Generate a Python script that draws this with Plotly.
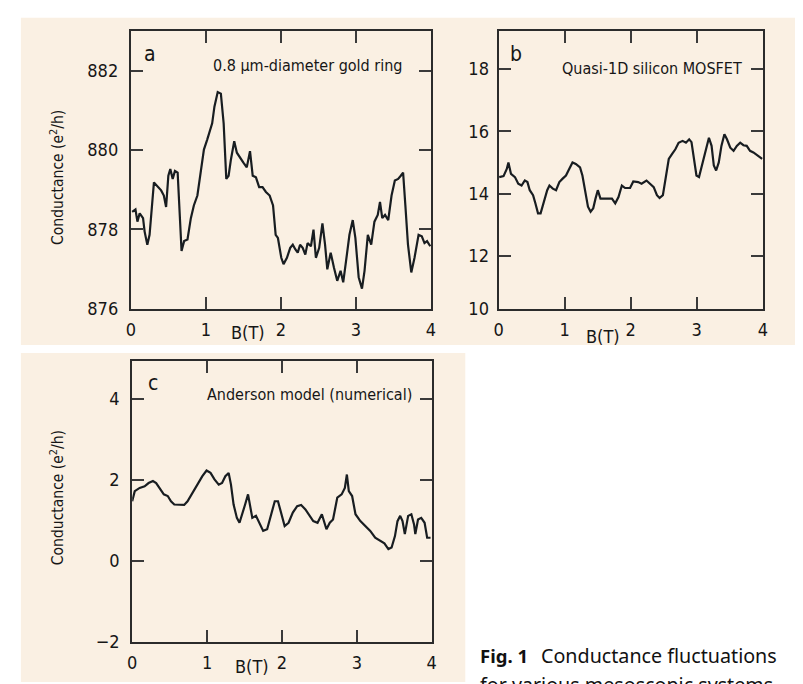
import plotly.graph_objects as go

W, H = 803, 684

# ---------------- data ----------------
# Panel a: 0.8 um-diameter gold ring
a_B = [0.018, 0.062, 0.088, 0.118, 0.163, 0.184, 0.22, 0.25, 0.308, 0.36, 0.404, 0.44, 0.47, 0.5,
       0.526, 0.558, 0.588, 0.624, 0.645, 0.676, 0.71, 0.755, 0.8, 0.84, 0.887, 0.93, 0.974, 1.018,
       1.062, 1.084, 1.114, 1.158, 1.2, 1.237, 1.272, 1.303, 1.334, 1.378, 1.413, 1.466, 1.5, 1.545,
       1.588, 1.624, 1.667, 1.71, 1.755, 1.8, 1.85, 1.895, 1.93, 1.96, 2.005, 2.035, 2.08, 2.124,
       2.158, 2.193, 2.224, 2.255, 2.29, 2.325, 2.355, 2.4, 2.434, 2.466, 2.51, 2.553, 2.588, 2.618,
       2.663, 2.707, 2.75, 2.795, 2.83, 2.868, 2.913, 2.957, 2.992, 3.036, 3.08, 3.114, 3.158, 3.203,
       3.246, 3.29, 3.32, 3.35, 3.387, 3.43, 3.474, 3.518, 3.562, 3.597, 3.628, 3.658, 3.693, 3.737,
       3.78, 3.834, 3.877, 3.913, 3.947, 3.99]
a_G = [878.44, 878.5, 878.19, 878.4, 878.28, 877.94, 877.61, 877.86, 879.18, 879.06, 878.98, 878.85,
       878.56, 879.35, 879.52, 879.27, 879.47, 879.43, 878.6, 877.45, 877.7, 877.74, 878.28, 878.6,
       878.85, 879.43, 880.01, 880.26, 880.55, 880.67, 881.09, 881.46, 881.42, 880.67, 879.27, 879.35,
       879.76, 880.22, 879.93, 879.76, 879.68, 879.56, 879.97, 879.35, 879.31, 879.06, 879.06, 878.94,
       878.85, 878.6, 877.86, 877.78, 877.28, 877.12, 877.28, 877.53, 877.61, 877.49, 877.41, 877.61,
       877.53, 877.36, 877.65, 877.57, 877.99, 877.28, 877.53, 878.15, 877.61, 876.99, 877.41, 877.03,
       876.7, 876.95, 876.66, 877.2, 877.86, 878.23, 877.78, 876.79, 876.5, 876.95, 877.86, 877.61,
       878.19, 878.36, 878.69, 878.28, 878.36, 878.23, 878.85, 879.23, 879.27, 879.35, 879.43, 878.6,
       877.61, 876.91, 877.28, 877.86, 877.82, 877.65, 877.7, 877.57]

# Panel b: quasi-1D silicon MOSFET
b_B = [0.01, 0.075, 0.124, 0.149, 0.188, 0.248, 0.298, 0.348, 0.397, 0.437, 0.472, 0.522, 0.557,
       0.597, 0.636, 0.687, 0.736, 0.77, 0.821, 0.87, 0.92, 0.97, 1.02, 1.069, 1.119, 1.169, 1.233,
       1.269, 1.318, 1.353, 1.393, 1.433, 1.467, 1.502, 1.542, 1.591, 1.666, 1.716, 1.766, 1.815,
       1.866, 1.915, 1.99, 2.039, 2.113, 2.164, 2.239, 2.299, 2.348, 2.397, 2.437, 2.487, 2.537,
       2.576, 2.627, 2.676, 2.725, 2.785, 2.836, 2.885, 2.92, 2.96, 2.995, 3.034, 3.084, 3.134,
       3.184, 3.224, 3.258, 3.293, 3.333, 3.373, 3.418, 3.457, 3.507, 3.557, 3.606, 3.657, 3.706,
       3.756, 3.806, 3.857, 3.906, 3.955, 3.99]
b_G = [14.53, 14.56, 14.79, 15.0, 14.63, 14.53, 14.32, 14.26, 14.42, 14.37, 14.11, 13.95, 13.69,
       13.37, 13.37, 13.79, 14.11, 14.26, 14.16, 14.11, 14.37, 14.48, 14.58, 14.79, 15.0, 14.95,
       14.84, 14.58, 14.05, 13.58, 13.42, 13.53, 13.84, 14.11, 13.84, 13.84, 13.86, 13.84, 13.69,
       13.89, 14.26, 14.18, 14.18, 14.39, 14.37, 14.32, 14.42, 14.32, 14.21, 13.95, 13.86, 13.95,
       14.58, 15.11, 15.27, 15.42, 15.63, 15.69, 15.63, 15.74, 15.65, 15.0, 14.58, 14.53, 14.95,
       15.42, 15.79, 15.53, 14.9, 14.74, 15.0, 15.53, 15.9, 15.74, 15.47, 15.37, 15.53, 15.63,
       15.55, 15.53, 15.37, 15.32, 15.24, 15.16, 15.11]

# Panel c: Anderson model (numerical)
c_B = [0.0, 0.034, 0.1, 0.166, 0.219, 0.277, 0.32, 0.364, 0.422, 0.475, 0.518, 0.562, 0.628, 0.694,
       0.739, 0.805, 0.871, 0.937, 0.993, 1.046, 1.099, 1.156, 1.2, 1.244, 1.288, 1.319, 1.354,
       1.398, 1.433, 1.472, 1.508, 1.547, 1.574, 1.604, 1.653, 1.697, 1.749, 1.802, 1.847, 1.904,
       1.947, 1.992, 2.036, 2.088, 2.145, 2.203, 2.256, 2.313, 2.365, 2.418, 2.475, 2.533, 2.594,
       2.639, 2.682, 2.739, 2.797, 2.84, 2.867, 2.893, 2.937, 2.982, 3.047, 3.113, 3.179, 3.245,
       3.311, 3.368, 3.421, 3.464, 3.509, 3.543, 3.579, 3.61, 3.641, 3.685, 3.728, 3.764, 3.781,
       3.817, 3.86, 3.905, 3.939, 3.984]
c_G = [1.47, 1.72, 1.8, 1.84, 1.92, 1.97, 1.92, 1.8, 1.64, 1.6, 1.47, 1.39, 1.38, 1.38, 1.47, 1.68,
       1.88, 2.09, 2.23, 2.17, 2.01, 1.88, 1.92, 2.09, 2.17, 1.88, 1.39, 1.06, 0.94, 1.15, 1.39,
       1.64, 1.31, 1.06, 1.11, 0.94, 0.74, 0.78, 1.06, 1.47, 1.47, 1.15, 0.86, 0.94, 1.19, 1.35,
       1.38, 1.27, 1.11, 0.98, 0.94, 1.15, 0.78, 0.94, 1.02, 1.56, 1.64, 1.8, 2.13, 1.72, 1.6,
       1.15, 0.98, 0.86, 0.74, 0.57, 0.49, 0.43, 0.29, 0.33, 0.61, 0.98, 1.11, 0.98, 0.66, 1.11,
       1.15, 0.9, 0.66, 1.02, 1.06, 0.94, 0.57, 0.57]

x_ticks = [0, 1, 2, 3, 4]
a_yticks = [876, 878, 880, 882]
b_yticks = [10.32, 12, 14, 16, 18]
b_yticklabels = ["10", "12", "14", "16", "18"]
c_yticks = [-2, 0, 2, 4]
c_yticklabels = ["\u22122", "0", "2", "4"]

titles = ["0.8 \u00b5m-diameter gold ring", "Quasi-1D silicon MOSFET", "Anderson model (numerical)"]
letters = ["a", "b", "c"]

# ---------------- styling ----------------
NARROW = "DejaVu Sans Condensed, sans-serif"
LINE = "#181d21"
AXC = "#2b2b2b"
PLOTBG = "#d3e3f2"
CREAM = "#faf0e3"
TXT = "#161616"


def fx(p):
    return p / W


def fy(p):
    return 1 - p / H


def axis_style(dom, rng, tickvals, ticktext=None, anchor=None, standoff=5):
    d = dict(domain=dom, range=rng, tickvals=tickvals, showline=True, linecolor=AXC, linewidth=2,
             mirror="ticks", ticks="inside", ticklen=12, tickwidth=2, tickcolor="#3a3a3a",
             showgrid=False, zeroline=False, ticklabelstandoff=standoff,
             tickfont=dict(family=NARROW, size=18, color=TXT), anchor=anchor)
    if ticktext is not None:
        d["ticktext"] = ticktext
    return d


fig = go.Figure()
line = dict(color=LINE, width=2.2)
fig.add_trace(go.Scatter(x=a_B, y=a_G, mode="lines", line=line, xaxis="x", yaxis="y", showlegend=False))
fig.add_trace(go.Scatter(x=b_B, y=b_G, mode="lines", line=line, xaxis="x2", yaxis="y2", showlegend=False))
fig.add_trace(go.Scatter(x=c_B, y=c_G, mode="lines", line=line, xaxis="x3", yaxis="y3", showlegend=False))

# panel pixel boxes (left, right, top, bottom)
boxes = [(119.3, 423.3, 23.3, 305.0), (491.7, 759.3, 23.3, 305.0), (120.7, 424.0, 358.3, 643.3)]

fig.update_layout(
    width=W, height=H, margin=dict(l=0, r=0, t=0, b=0),
    paper_bgcolor="white", plot_bgcolor=PLOTBG, showlegend=False,
    xaxis=axis_style([fx(boxes[0][0]), fx(boxes[0][1])], [0, 4], x_ticks, anchor="y", standoff=4),
    yaxis=axis_style([fy(boxes[0][3]), fy(boxes[0][2])], [876, 883], a_yticks, anchor="x", standoff=7),
    xaxis2=axis_style([fx(boxes[1][0]), fx(boxes[1][1])], [0, 4], x_ticks, anchor="y2", standoff=4),
    yaxis2=axis_style([fy(boxes[1][3]), fy(boxes[1][2])], [10.32, 19.21], b_yticks, b_yticklabels,
                      anchor="x2", standoff=4),
    xaxis3=axis_style([fx(boxes[2][0]), fx(boxes[2][1])], [0, 4], x_ticks, anchor="y3", standoff=4),
    yaxis3=axis_style([fy(boxes[2][3]), fy(boxes[2][2])], [-2, 4.93], c_yticks, c_yticklabels,
                      anchor="x3", standoff=7),
)

shapes = [
    dict(type="rect", xref="paper", yref="paper", x0=fx(8), x1=fx(795), y0=fy(342), y1=fy(10),
         fillcolor=CREAM, line=dict(width=0), layer="below"),
    dict(type="rect", xref="paper", yref="paper", x0=fx(8), x1=fx(458), y0=fy(684), y1=fy(350),
         fillcolor=CREAM, line=dict(width=0), layer="below"),
]
fig.update_layout(shapes=shapes)

ann = []
# panel letters and titles
letter_pos = [(139, 47), (509, 47), (142, 381)]
title_pos = [(397, 58), (740, 61), (406, 392)]
for i in range(3):
    ann.append(dict(x=fx(letter_pos[i][0]), y=fy(letter_pos[i][1]), xref="paper", yref="paper",
                    text=letters[i], showarrow=False, xanchor="center", yanchor="middle",
                    font=dict(family=NARROW, size=21, color=TXT)))
    ann.append(dict(x=fx(title_pos[i][0]), y=fy(title_pos[i][1]), xref="paper", yref="paper",
                    text=titles[i], showarrow=False, xanchor="right", yanchor="middle",
                    font=dict(family=NARROW, size=16, color=TXT)))
# x-axis titles
for (x, y) in [(238, 329), (597, 333), (242, 668)]:
    ann.append(dict(x=fx(x), y=fy(y), xref="paper", yref="paper", text="B(T)", showarrow=False,
                    xanchor="center", yanchor="middle",
                    font=dict(family=NARROW, size=18, color=TXT)))
# y-axis titles
for (x, y) in [(45, 172), (45, 497)]:
    ann.append(dict(x=fx(x), y=fy(y), xref="paper", yref="paper",
                    text="Conductance (e<sup>2</sup>/h)", showarrow=False, textangle=-90,
                    xanchor="center", yanchor="middle",
                    font=dict(family=NARROW, size=15.5, color=TXT)))
# caption
CAP = "Noto Sans, Liberation Sans, sans-serif"
ann.append(dict(x=fx(471), y=fy(657), xref="paper", yref="paper", text="<b>Fig. 1</b>",
                showarrow=False, xanchor="left", yanchor="middle",
                font=dict(family=CAP, size=18.5, color="#111")))
ann.append(dict(x=fx(533), y=fy(657), xref="paper", yref="paper", text="Conductance fluctuations",
                showarrow=False, xanchor="left", yanchor="middle",
                font=dict(family=CAP, size=19.7, color="#111")))
ann.append(dict(x=fx(471), y=fy(687), xref="paper", yref="paper", text="for various mesoscopic systems",
                showarrow=False, xanchor="left", yanchor="middle",
                font=dict(family=CAP, size=19.7, color="#111")))
fig.update_layout(annotations=ann)

fig.write_html("out.html")
